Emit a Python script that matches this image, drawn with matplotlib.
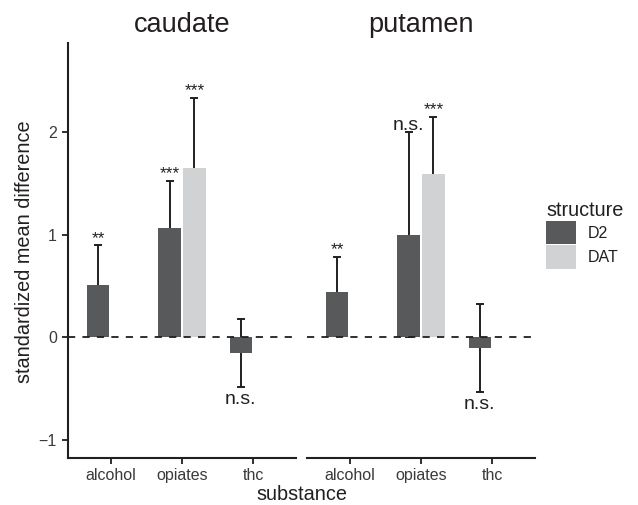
import matplotlib
matplotlib.use("Agg")
import matplotlib.pyplot as plt
from matplotlib.patches import Patch
import numpy as np

plt.rcParams['font.family'] = ['Liberation Sans', 'DejaVu Sans']

# ---- data ----
panels = ["caudate", "putamen"]
substances = ["alcohol", "opiates", "thc"]
structures = ["D2", "DAT"]

# mean values per panel, per structure (None = no bar)
d2_means = {"caudate": [0.51, 1.07, -0.15], "putamen": [0.44, 1.00, -0.10]}
d2_errs = {"caudate": [0.39, 0.46, 0.33], "putamen": [0.345, 1.00, 0.43]}
d2_labels = {"caudate": ["**", "***", "n.s."], "putamen": ["**", "n.s.", "n.s."]}

dat_means = {"caudate": [None, 1.65, None], "putamen": [None, 1.595, None]}
dat_errs = {"caudate": [None, 0.69, None], "putamen": [None, 0.555, None]}
dat_labels = {"caudate": [None, "***", None], "putamen": [None, "***", None]}

yticks = [-1, 0, 1, 2]
ytick_labels = ["\u22121", "0", "1", "2"]

# ---- style ----
c_d2 = "#58595b"
c_dat = "#d1d2d4"
c_line = "#231f20"
c_tick = "#3a3a3a"
W, H = 638, 505

fig = plt.figure(figsize=(W / 100, H / 100), dpi=100)

x_left = [68, 307]
pw = 228
top, bottom = 43, 458

bar_w = 0.31
off = 0.175
x = np.arange(1, len(substances) + 1)

for i, p in enumerate(panels):
    ax = fig.add_axes([x_left[i] / W, 1 - bottom / H, pw / W, (bottom - top) / H])
    ax.set_xlim(0.4, 3.6)
    ax.set_ylim(-1.176, 2.873)

    for j in range(len(substances)):
        for means, errs, labs, sgn, col in [
            (d2_means, d2_errs, d2_labels, -1, c_d2),
            (dat_means, dat_errs, dat_labels, 1, c_dat),
        ]:
            m = means[p][j]
            if m is None:
                continue
            xc = x[j] + sgn * off
            e = errs[p][j]
            ax.errorbar(xc, m, yerr=e, fmt="none", ecolor=c_line, elinewidth=1.4,
                        capsize=2.6, capthick=1.4, zorder=1)
            ax.bar(xc, m, width=bar_w, color=col, zorder=2)
            lab = labs[p][j]
            fs = 12.5 if lab.startswith("*") else 14
            if m >= 0:
                ax.text(xc, m + e + 0.025, lab, ha="center", va="baseline",
                        fontsize=fs, color=c_line, zorder=4)
            else:
                ax.text(xc, m - e - 0.17, lab, ha="center", va="baseline",
                        fontsize=fs, color=c_line, zorder=4)

    ax.axhline(0, color=c_line, lw=1.3, ls=(0, (4, 4)), zorder=3)

    ax.set_xticks(x)
    ax.set_xticklabels(substances)
    ax.tick_params(axis="x", length=4, width=1.3, color=c_line, labelsize=11.5,
                   labelcolor=c_tick, pad=3)
    for s in ["top", "right"]:
        ax.spines[s].set_visible(False)
    ax.spines["bottom"].set_linewidth(1.5)
    ax.spines["bottom"].set_color(c_line)
    if i == 0:
        ax.set_yticks(yticks)
        ax.set_yticklabels(ytick_labels)
        ax.tick_params(axis="y", length=4, width=1.3, color=c_line, labelsize=11.5,
                       labelcolor=c_tick, pad=4)
        ax.spines["left"].set_linewidth(1.5)
        ax.spines["left"].set_color(c_line)
    else:
        ax.spines["left"].set_visible(False)
        ax.set_yticks([])
    ax.set_title(p, fontsize=19.5, color=c_line, pad=8)

fig.text(25 / W, 1 - 251.5 / H, "standardized mean difference", rotation=90,
         ha="center", va="center", fontsize=14.3, color=c_line)
fig.text(301.5 / W, 1 - 500 / H, "substance", ha="center", va="baseline",
         fontsize=14.3, color=c_line)

handles = [Patch(facecolor=c_d2, edgecolor="none"), Patch(facecolor=c_dat, edgecolor="none")]
leg = fig.legend(handles, structures, title="structure", loc="upper left",
                 bbox_to_anchor=(546 / W, 1 - 201 / H), frameon=False,
                 fontsize=11.5, title_fontsize=14.3, handlelength=1.9,
                 handleheight=1.9, handletextpad=0.7, labelspacing=0.05,
                 borderpad=0, borderaxespad=0, alignment="left")
for t in leg.get_texts():
    t.set_color(c_line)
leg.get_title().set_color(c_line)

fig.savefig("out.png", dpi=100)
